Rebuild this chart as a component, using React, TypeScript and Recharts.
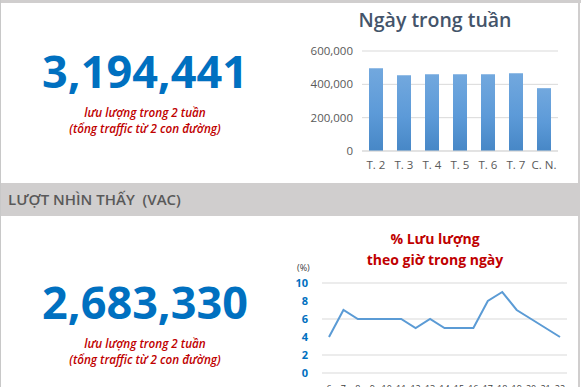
import React from "react";
import { Bar, BarChart, CartesianGrid, Line, LineChart, XAxis, YAxis } from "recharts";

const weekdays = ["T. 2", "T. 3", "T. 4", "T. 5", "T. 6", "T. 7", "C. N."];
const weekdayTraffic = [496000, 455000, 461000, 461000, 461000, 467000, 377000];
const weekdayTicks = [0, 200000, 400000, 600000];

const hours = ["6", "7", "8", "9", "10", "11", "12", "13", "14", "15", "16", "17", "18", "19", "20", "21", "22"];
const hourShare = [4, 7, 6, 6, 6, 6, 5, 6, 5, 5, 5, 8, 9, 7, 6, 5, 4];
const hourTicks = [0, 2, 4, 6, 8, 10];

const totals = ["3,194,441", "2,683,330"];
const noteLines = ["lưu lượng trong 2 tuần", "(tổng traffic từ 2 con đường)"];

const FONT = "'Open Sans', 'Noto Sans', sans-serif";

const weekData = weekdays.map((day, i) => ({ day, traffic: weekdayTraffic[i] }));
const hourData = hours.map((hour, i) => ({ hour, share: hourShare[i] }));

function BigNumber({ value, top }: { value: string; top: number }) {
  return (
    <div style={{ position: "absolute", left: 0, top, width: 290, textAlign: "center" }}>
      <div style={{ fontSize: 45, fontWeight: 700, color: "#0070c0", lineHeight: "52px" }}>{value}</div>
      <div style={{ marginTop: 7, fontSize: 11.7, fontStyle: "italic", fontWeight: 600, color: "#c00000", lineHeight: "16px" }}>
        {noteLines.map((l) => (
          <div key={l}>{l}</div>
        ))}
      </div>
    </div>
  );
}

export default function App() {
  return (
    <div style={{ position: "relative", width: 581, height: 387, overflow: "hidden", background: "#fff", fontFamily: FONT }}>
      <style>{"body{margin:0}"}</style>
      {/* frame */}
      <div style={{ position: "absolute", left: 0, top: 0, width: 581, height: 3, background: "#d0cece" }} />
      <div style={{ position: "absolute", left: 0, top: 0, width: 1, height: 387, background: "#c8c8c8" }} />
      <div style={{ position: "absolute", left: 578, top: 0, width: 2, height: 387, background: "#d0cece" }} />
      <div
        style={{
          position: "absolute",
          left: 1,
          top: 183,
          width: 577,
          height: 33,
          background: "#d0cece",
          color: "#595959",
          fontWeight: 600,
          fontSize: 15,
          lineHeight: "33px",
          paddingLeft: 7,
          boxSizing: "border-box",
          whiteSpace: "pre",
        }}
      >
        {"LƯỢT NHÌN THẤY  (VAC)"}
      </div>

      <BigNumber value={totals[0]} top={45} />
      <BigNumber value={totals[1]} top={276} />

      {/* weekday bar chart */}
      <div style={{ position: "absolute", left: 290, top: 6, width: 290, textAlign: "center", fontSize: 19.5, fontWeight: 600, color: "#44546a" }}>
        Ngày trong tuần
      </div>
      <div style={{ position: "absolute", left: 290, top: 30 }}>
        <BarChart width={290} height={150} data={weekData} margin={{ top: 21, right: 22, bottom: 0, left: 0 }}>
          <defs>
            <linearGradient id="barFill" x1="0" y1="0" x2="0" y2="1">
              <stop offset="0%" stopColor="#72a8de" />
              <stop offset="55%" stopColor="#5c9ad8" />
              <stop offset="100%" stopColor="#4787c6" />
            </linearGradient>
          </defs>
          <CartesianGrid vertical={false} stroke="#d9d9d9" />
          <XAxis
            dataKey="day"
            axisLine={{ stroke: "#d9d9d9" }}
            tickLine={false}
            tickMargin={4}
            height={29}
            interval={0}
            tick={{ fill: "#595959", fontSize: 11.5, fontFamily: FONT }}
          />
          <YAxis
            width={72}
            domain={[0, 600000]}
            ticks={weekdayTicks}
            axisLine={false}
            tickLine={false}
            tickMargin={3}
            tickFormatter={(v: number) => v.toLocaleString("en-US")}
            tick={{ fill: "#595959", fontSize: 11.5, fontFamily: FONT }}
          />
          <Bar dataKey="traffic" fill="url(#barFill)" barSize={14} isAnimationActive={false} />
        </BarChart>
      </div>

      {/* hourly line chart */}
      <div style={{ position: "absolute", left: 290, top: 228, width: 290, textAlign: "center", color: "#c00000", fontWeight: 700, fontSize: 14, lineHeight: "21px" }}>
        <div>% Lưu lượng</div>
        <div>theo giờ trong ngày</div>
      </div>
      <div style={{ position: "absolute", left: 297, top: 261, fontSize: 9, color: "#404040" }}>(%)</div>
      <div style={{ position: "absolute", left: 290, top: 260 }}>
        <LineChart width={290} height={140} data={hourData} margin={{ top: 23, right: 13, bottom: 0, left: 0 }}>
          <CartesianGrid vertical={false} stroke="#d9d9d9" />
          <XAxis
            dataKey="hour"
            axisLine={false}
            tickLine={false}
            tickMargin={7}
            height={27}
            interval={0}
            padding={{ left: 7, right: 7 }}
            tick={{ fill: "#404040", fontSize: 9, fontFamily: FONT }}
          />
          <YAxis
            width={32}
            domain={[0, 10]}
            ticks={hourTicks}
            axisLine={false}
            tickLine={false}
            tickMargin={8}
            tick={{ fill: "#0070c0", fontSize: 11, fontWeight: 700, fontFamily: FONT }}
          />
          <Line type="linear" dataKey="share" stroke="#5b9bd5" strokeWidth={2} dot={false} isAnimationActive={false} />
        </LineChart>
      </div>
    </div>
  );
}
